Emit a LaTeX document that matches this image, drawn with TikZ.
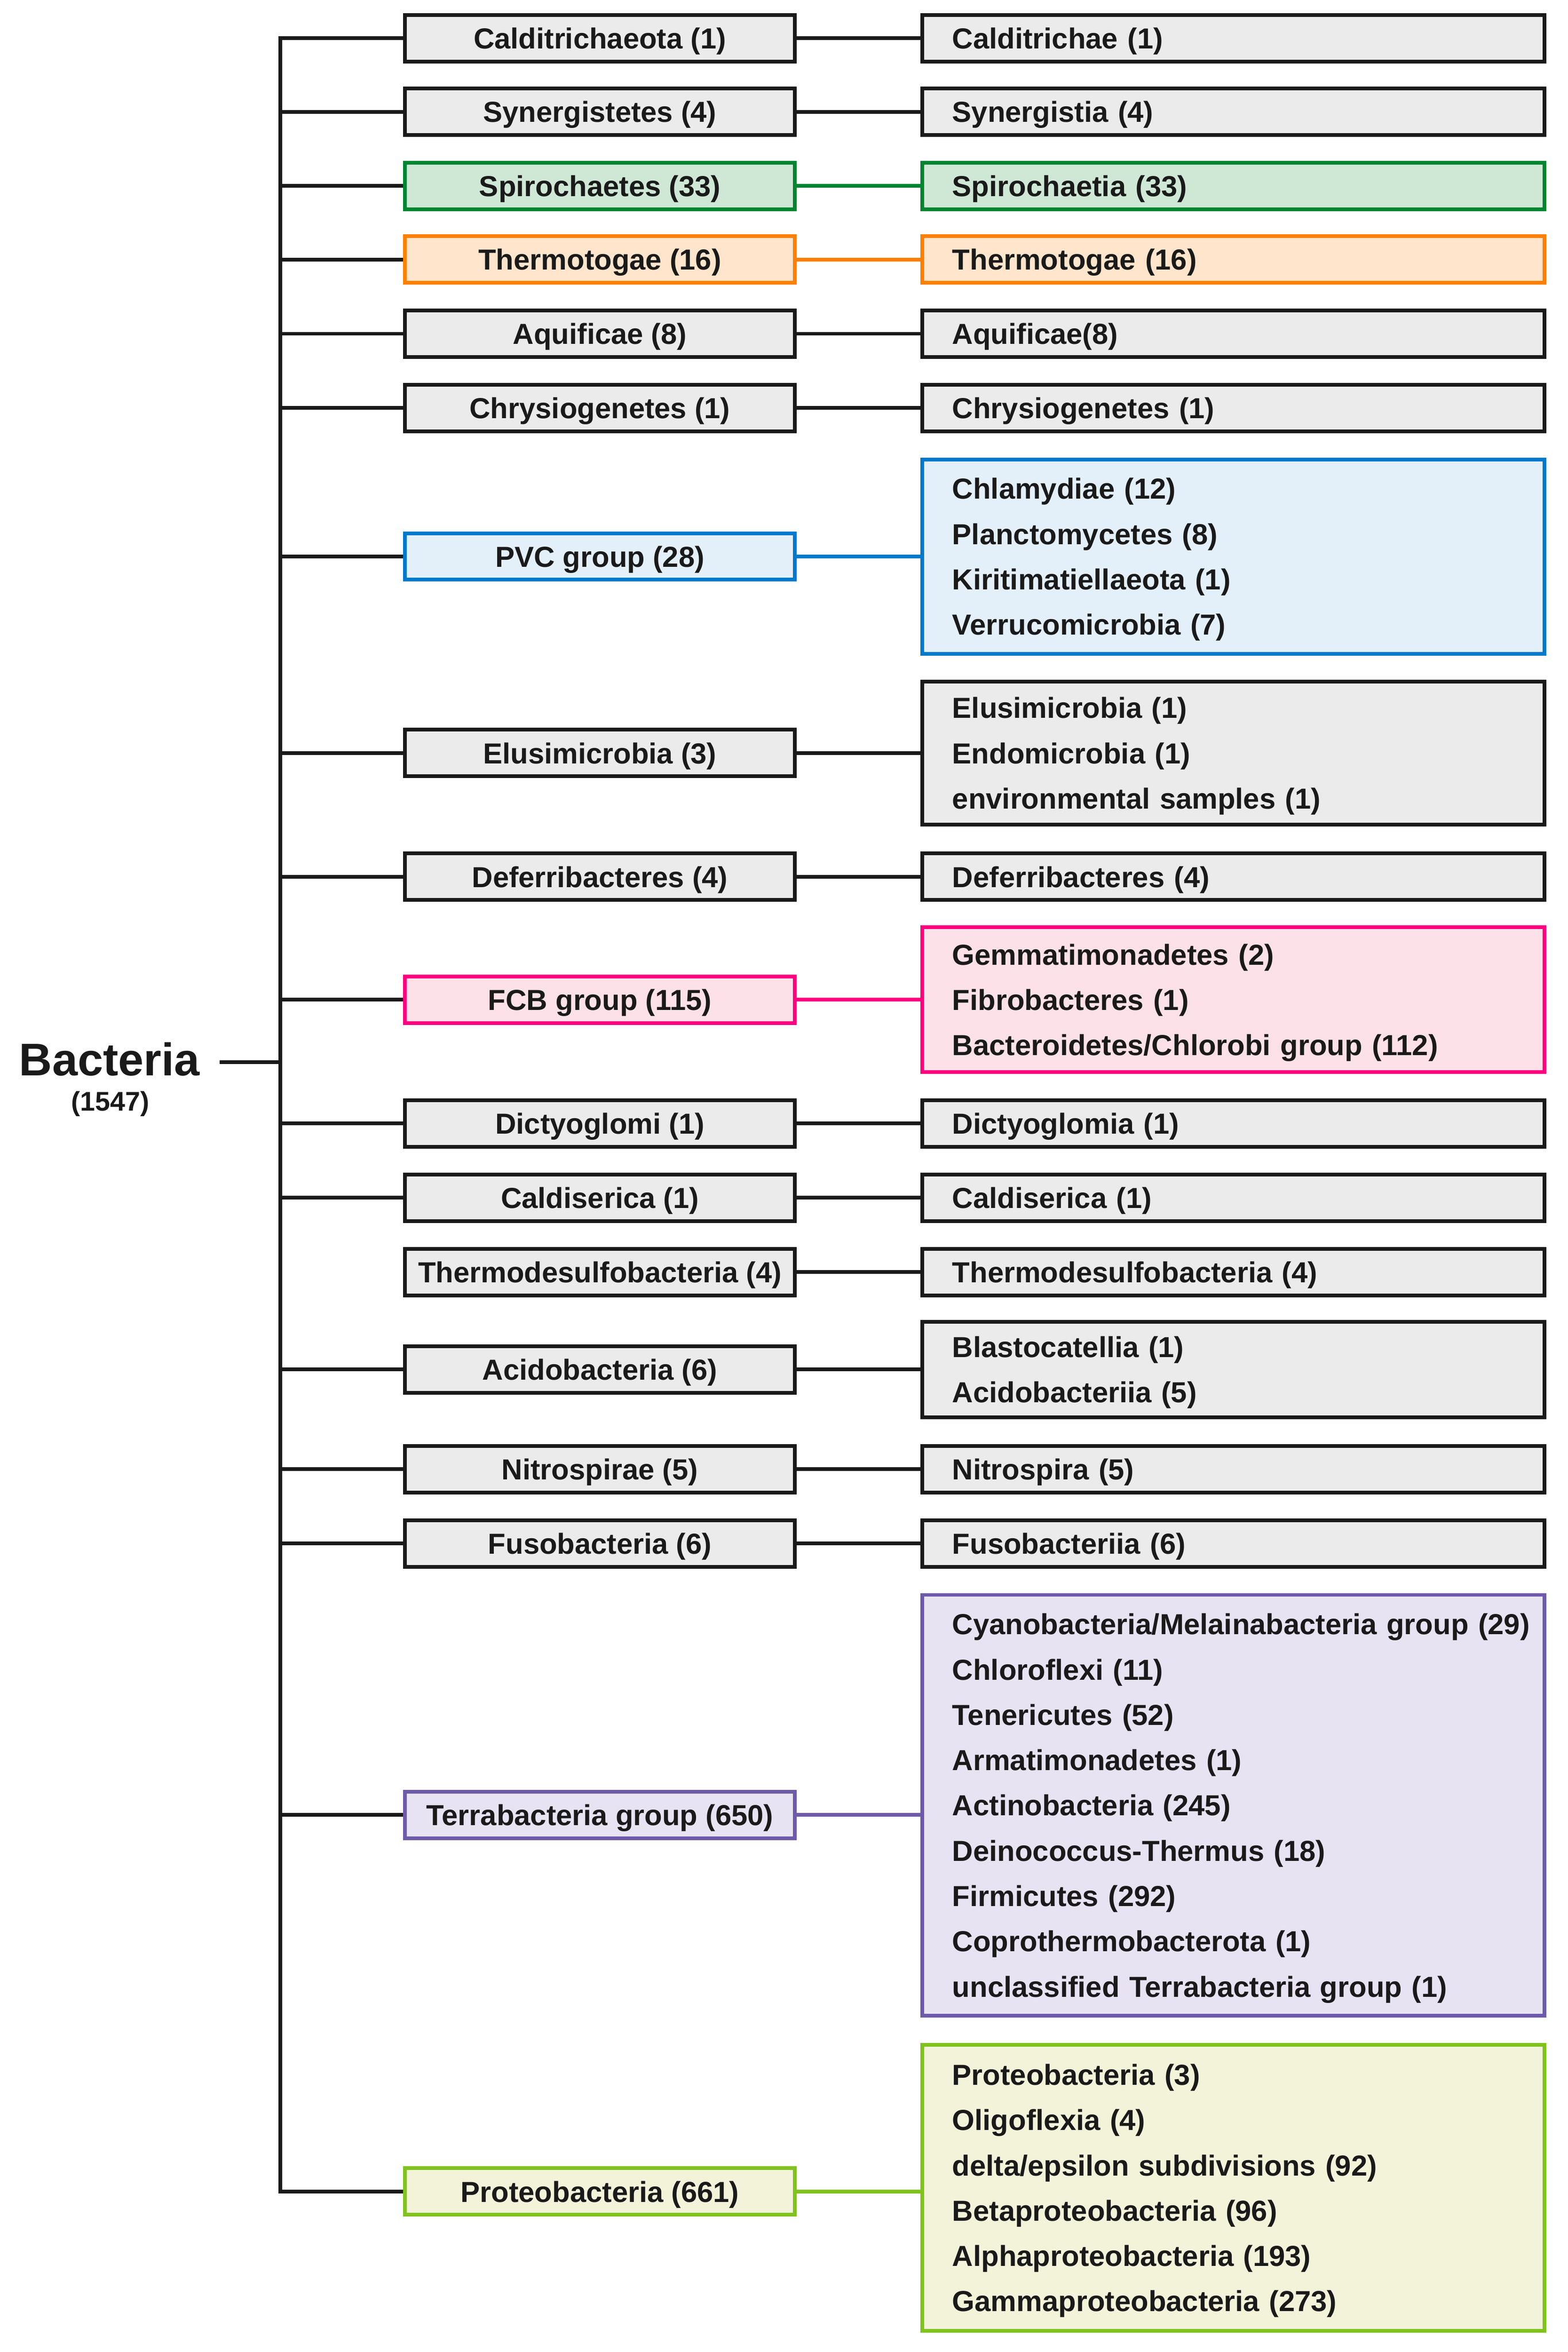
\documentclass[tikz,border=0pt]{standalone}
\usepackage{fontspec}
\setmainfont{Liberation Sans}
\definecolor{lblack}{RGB}{26,26,26}
\definecolor{fgray}{RGB}{235,235,235}
\definecolor{lgreen}{RGB}{0,133,48}
\definecolor{fgreen}{RGB}{207,232,214}
\definecolor{lorange}{RGB}{255,127,0}
\definecolor{forange}{RGB}{254,229,204}
\definecolor{lblue}{RGB}{0,122,204}
\definecolor{fblue}{RGB}{227,240,250}
\definecolor{lpink}{RGB}{255,0,128}
\definecolor{fpink}{RGB}{253,225,232}
\definecolor{lpurple}{RGB}{110,90,170}
\definecolor{fpurple}{RGB}{231,227,242}
\definecolor{lolive}{RGB}{127,195,28}
\definecolor{folive}{RGB}{243,243,218}
\newcommand\rin{\hspace*{20pt}\rule{0pt}{18pt}}
\tikzset{
  boxbase/.style={rectangle, line width=2.5pt, font=\bfseries\fontsize{19.3}{30.2}\selectfont, inner ysep=2pt, text=lblack},
  lbox/.style={boxbase, minimum width=260pt, minimum height=31pt, inner xsep=2pt, align=center, execute at begin node={\rule{0pt}{18pt}}},
  rbox/.style={boxbase, text width=415pt, inner xsep=0pt, align=left, minimum height=31pt},
  cgray/.style={draw=lblack, fill=fgray},
  cgreen/.style={draw=lgreen, fill=fgreen},
  corange/.style={draw=lorange, fill=forange},
  cblue/.style={draw=lblue, fill=fblue},
  cpink/.style={draw=lpink, fill=fpink},
  cpurple/.style={draw=lpurple, fill=fpurple},
  colive/.style={draw=lolive, fill=folive},
  lnk/.style={line width=2.5pt, draw=lblack},
}
\begin{document}
\begin{tikzpicture}[x=1pt,y=-1pt]
\useasboundingbox (0,0) rectangle (1045.4,1568);
% root
\node[font=\bfseries\fontsize{30.5}{36}\selectfont, inner xsep=13pt, inner ysep=0pt, text=lblack] (bac) at (73,706) {Bacteria};
\node[font=\bfseries\fontsize{18}{20}\selectfont, inner sep=0pt, text=lblack] (bacn) at (73.5,736) {(1547)};
\coordinate (root) at (187,708);
% left boxes
\node[lbox, cgray]   (l1)  at (400,25.5) {Calditrichaeota (1)};
\node[lbox, cgray]   (l2)  at (400,74.5) {Synergistetes (4)};
\node[lbox, cgreen]  (l3)  at (400,124) {Spirochaetes (33)};
\node[lbox, corange] (l4)  at (400,173) {Thermotogae (16)};
\node[lbox, cgray]   (l5)  at (400,222.5) {Aquificae (8)};
\node[lbox, cgray]   (l6)  at (400,272) {Chrysiogenetes (1)};
\node[lbox, cblue]   (l7)  at (400,371) {PVC group (28)};
\node[lbox, cgray]   (l8)  at (400,502) {Elusimicrobia (3)};
\node[lbox, cgray]   (l9)  at (400,584.5) {Deferribacteres (4)};
\node[lbox, cpink]   (l10) at (400,666.5) {FCB group (115)};
\node[lbox, cgray]   (l11) at (400,749) {Dictyoglomi (1)};
\node[lbox, cgray]   (l12) at (400,798.5) {Caldiserica (1)};
\node[lbox, cgray]   (l13) at (400,848) {Thermodesulfobacteria (4)};
\node[lbox, cgray]   (l14) at (400,913) {Acidobacteria (6)};
\node[lbox, cgray]   (l15) at (400,979.5) {Nitrospirae (5)};
\node[lbox, cgray]   (l16) at (400,1029) {Fusobacteria (6)};
\node[lbox, cpurple] (l17) at (400,1210) {Terrabacteria group (650)};
\node[lbox, colive]  (l18) at (400,1461) {Proteobacteria (661)};
% right boxes
\node[rbox, cgray]   (r1)  at (822.5,25.5) {\rin Calditrichae (1)};
\node[rbox, cgray]   (r2)  at (822.5,74.5) {\rin Synergistia (4)};
\node[rbox, cgreen]  (r3)  at (822.5,124) {\rin Spirochaetia (33)};
\node[rbox, corange] (r4)  at (822.5,173) {\rin Thermotogae (16)};
\node[rbox, cgray]   (r5)  at (822.5,222.5) {\rin Aquificae(8)};
\node[rbox, cgray]   (r6)  at (822.5,272) {\rin Chrysiogenetes (1)};
\node[rbox, cblue, minimum height=129.5pt] (r7) at (822.5,371) {\rin Chlamydiae (12)\\\rin Planctomycetes (8)\\\rin Kiritimatiellaeota (1)\\\rin Verrucomicrobia (7)};
\node[rbox, cgray, minimum height=95.5pt] (r8) at (822.5,502) {\rin Elusimicrobia (1)\\\rin Endomicrobia (1)\\\rin environmental samples (1)};
\node[rbox, cgray]   (r9)  at (822.5,584.5) {\rin Deferribacteres (4)};
\node[rbox, cpink, minimum height=96.5pt] (r10) at (822.5,666.5) {\rin Gemmatimonadetes (2)\\\rin Fibrobacteres (1)\\\rin Bacteroidetes/Chlorobi group (112)};
\node[rbox, cgray]   (r11) at (822.5,749) {\rin Dictyoglomia (1)};
\node[rbox, cgray]   (r12) at (822.5,798.5) {\rin Caldiserica (1)};
\node[rbox, cgray]   (r13) at (822.5,848) {\rin Thermodesulfobacteria (4)};
\node[rbox, cgray, minimum height=63.5pt] (r14) at (822.5,913) {\rin Blastocatellia (1)\\\rin Acidobacteriia (5)};
\node[rbox, cgray]   (r15) at (822.5,979.5) {\rin Nitrospira (5)};
\node[rbox, cgray]   (r16) at (822.5,1029) {\rin Fusobacteriia (6)};
\node[rbox, cpurple, minimum height=280.5pt] (r17) at (822.5,1203.5) {\rin Cyanobacteria/Melainabacteria group (29)\\\rin Chloroflexi (11)\\\rin Tenericutes (52)\\\rin Armatimonadetes (1)\\\rin Actinobacteria (245)\\\rin Deinococcus-Thermus (18)\\\rin Firmicutes (292)\\\rin Coprothermobacterota (1)\\\rin unclassified Terrabacteria group (1)};
\node[rbox, colive, minimum height=190.5pt] (r18) at (822.5,1458.5) {\rin Proteobacteria (3)\\\rin Oligoflexia (4)\\\rin delta/epsilon subdivisions (92)\\\rin Betaproteobacteria (96)\\\rin Alphaproteobacteria (193)\\\rin Gammaproteobacteria (273)};
% tree
\draw[lnk] (bac.east |- root) -- (root);
\draw[lnk, line join=miter] (l1.west) -- (root |- l1.west) -- (root |- l18.west) -- (l18.west);
\foreach \i in {2,...,12,14,15,16,17} {
  \draw[lnk] (root |- l\i.west) -- (l\i.west);
}
% left-right links
\foreach \i in {1,2,5,6,8,9,11,12,13,14,15,16} {
  \draw[lnk] (l\i.east) -- (l\i.east -| r\i.west);
}
\draw[lnk, draw=lgreen]  (l3.east)  -- (l3.east -| r3.west);
\draw[lnk, draw=lorange] (l4.east)  -- (l4.east -| r4.west);
\draw[lnk, draw=lblue]   (l7.east)  -- (l7.east -| r7.west);
\draw[lnk, draw=lpink]   (l10.east) -- (l10.east -| r10.west);
\draw[lnk, draw=lpurple] (l17.east) -- (l17.east -| r17.west);
\draw[lnk, draw=lolive]  (l18.east) -- (l18.east -| r18.west);
\end{tikzpicture}
\end{document}
